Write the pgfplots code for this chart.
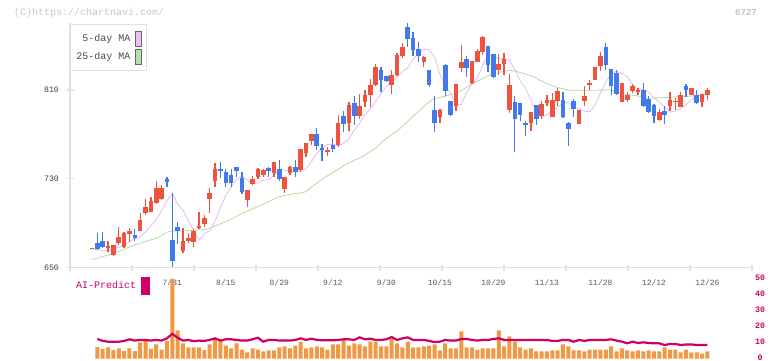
\documentclass[border=0pt]{standalone}
\usepackage{pgfplots}
\pgfplotsset{compat=1.18}
\usepackage{pgfplotstable}
\usepackage{fontspec}
\setmainfont{Liberation Mono}
\definecolor{cred}{RGB}{240,82,64}
\definecolor{cblue}{RGB}{66,122,238}
\definecolor{cpink}{RGB}{236,190,242}
\definecolor{cgreen}{RGB}{186,222,170}
\definecolor{corange}{RGB}{241,152,64}
\definecolor{cmag}{RGB}{204,0,102}
\definecolor{caxis}{RGB}{224,224,224}

\pgfplotstableread{
i o h l c
0 667 668 666.5 667.5
3 668 674 664.5 669.5
4 661.7 670.5 660.8 670.1
5 672.5 686.6 670.7 677.3
6 669 682 668 681
7 680.6 686 673.4 683
9 683.3 699.5 682.8 692.9
10 699 711.6 697.2 704.4
11 700.1 714 699.9 710
12 708.5 728 707 721.5
13 711.6 724.4 711 721.5
17 665.3 685.7 663.5 674
18 674 681 672.5 677
19 673.1 684.8 669 683
20 686.1 700.1 684.6 687.3
21 689.3 697.4 687 694.7
22 711.8 722 699.2 717.5
23 728 744.6 723 739
29 711.2 720 705 719.9
30 725.3 732.5 724.4 730
31 732 740 730.1 739
32 733.4 739.2 732 738.3
34 735 745.5 732 745.2
36 720.6 732 717.5 731.6
37 735.6 741.6 733.2 740.7
39 738 757 736.4 756.9
40 753.3 762.5 749.4 762.3
41 764.3 770.6 760.5 770.4
44 754.5 759 750.6 756.3
46 760.2 787.5 759 780.3
48 780 799.5 773.3 796.5
50 787 806 784 795.9
51 799.5 809.7 794.7 805.5
52 805.5 820 794.7 814.5
53 814.5 833.7 814 830.7
56 814.8 827.7 806.7 823.5
57 823.5 843.3 822.9 841.5
58 840.6 852.3 838.5 848.7
62 835 840.3 830.7 840
65 786 793 780.6 792
68 795.9 815.3 791.4 815.1
69 830.1 850.5 826 835.2
71 816 836.3 815.1 836.1
72 835.5 846.9 835.3 845.1
73 844.5 858.6 841.5 857.7
76 828 842.4 823.5 833.4
77 833.4 843.3 823.5 837.9
78 792.3 824.4 789.3 814.5
82 780.3 790.4 773.4 790.2
84 786.3 800.1 784.2 797.4
85 798.6 805.5 795.9 801
86 786 807.3 785.8 801
87 800.4 811.8 795.6 809.1
91 779.7 792.2 779.5 792
92 800.1 813.6 795.6 804.6
93 814.5 819 810 816.6
94 819 831 818.8 830.7
95 831.6 844.2 827.4 840.6
99 799.5 816.5 799.3 816.3
100 801 808.2 799.5 805.5
101 809.1 815.4 807.6 813.6
102 808.2 811.8 805.5 810
106 783 792.9 782.1 790.2
108 795.6 808.2 791.1 801
109 799.9 802.8 792 800.4
110 794.7 808.2 794.5 805.5
112 805.5 812 805.3 811.8
114 799.2 806.6 794.7 806.4
115 805.5 811.8 801 810
}\uptab

\pgfplotstableread{
i o h l c
1 672.5 681 666 666.5
2 674.3 682 668 668.9
8 679.4 684.6 674.3 676.7
14 729.9 732 722.4 727.4
15 675 717 650.5 656.3
16 686.6 691 671.3 683
24 739 745.2 731 737.3
25 736.2 739 722.4 726
26 733.2 738.6 723 726
27 740.7 741 732 737.4
28 731 736 716.6 718
33 739.8 741 732 737.3
35 738.9 747 727.8 730.1
38 740.7 746.7 732 736.4
42 770.4 775.8 756 759.8
43 757.8 761.4 746.4 756.3
45 760.5 766.8 754.5 756.9
47 786.6 791.1 772.5 779.7
49 798.3 805 778.5 787
54 828 830.7 808.5 819
55 822.9 823 817 818.4
59 866.7 870.3 848.7 856.2
60 857.1 862.5 841 845.7
61 847.2 853.5 835.5 841
63 828 828.3 813 814.5
64 792 805 772.5 780
66 832.5 833.7 804.6 809.4
67 800.1 800.3 787 787.8
70 837.9 840.6 821.7 830.1
74 849.6 849.8 826.5 832.8
75 842.4 842.6 820.5 821.7
79 799.2 804.6 754.5 784.2
80 798.3 798.5 782.4 787.8
81 780.3 782.1 768.9 778.8
83 796.5 796.7 778.8 784.2
88 801 808.2 785.8 786
89 780.3 781.2 759.8 775.2
90 800.1 801.9 786 793.2
96 848.7 852.3 828 832.8
97 828.9 829 805.8 813.9
98 825.3 827.7 805.8 806.7
103 810 816.3 795.4 795.6
104 801.9 804.6 789.3 790.2
105 796.5 797.4 780.3 786.6
107 791.1 795.6 779.4 787.8
111 813.6 815.4 803.7 810
113 805.5 810 797.4 798.3
}\downtab

\pgfplotstableread{
i p g
0 667 657.5
1 666 658.5
2 665.5 660
3 665.5 661.5
4 667 663
5 668.5 664.5
6 670.5 666.5
7 673.4 668.5
8 676.2 670.5
9 677.6 672
10 682.2 673.5
11 687.6 675
12 693.4 676.5
13 701.1 679
14 710.1 682
15 717 683
16 707.3 683
17 701.9 683.2
18 692.4 683.5
19 683.5 683.8
20 674.7 684
21 680.9 684.5
22 683.2 685.5
23 691.9 687.5
24 704.3 689.5
25 715.2 691.5
26 722.9 693.8
27 729.2 696.2
28 733.1 699
29 728.9 700.9
30 725.5 702.9
31 726.3 705
32 728.9 707.3
33 729 709.5
34 732.9 711.9
35 738 714
36 738 715.1
37 736.5 715.9
38 737 716.7
39 736.8 717.3
40 739.1 718.5
41 745.6 722.7
42 753.3 726.2
43 757.2 729.6
44 761.1 732.8
45 761 735.7
46 759.9 738.5
47 761.9 742
48 765.9 744.4
49 773.9 746.7
50 780.1 748.7
51 787.9 751.5
52 792.9 754.7
53 799.9 757.8
54 806.7 762.3
55 813.1 766.3
56 817.6 769.8
57 821.2 773.2
58 826.6 777.3
59 830.2 781.8
60 837.7 786.2
61 843.1 790.8
62 846.6 795.2
63 846.3 799.2
64 839.5 802.3
65 824.2 803.2
66 813.5 804.4
67 807.2 806
68 796.7 807.1
69 796.9 809.4
70 807.9 812.6
71 815.5 815.5
72 820.9 817.8
73 832.3 820.4
74 840.8 822.8
75 840.4 824.7
76 838.7 825.7
77 838.1 826.8
78 836.7 827.7
79 828.1 827.1
80 818.3 825.7
81 811.6 824.5
82 800.6 822.7
83 791.1 820.6
84 785 818.1
85 787.7 815.7
86 790.3 813.9
87 794.8 812.3
88 798.5 811.1
89 798.9 809.9
90 794.5 809.7
91 792.9 809.8
92 791.1 809.1
93 790.2 809.8
94 796.3 809.8
95 807.4 809.7
96 816.9 810.1
97 825.1 809.9
98 826.9 808.7
99 824.9 806.7
100 822.1 806
101 815 805.3
102 811.2 804.6
103 810.4 803.4
104 808.2 802.7
105 803 802.9
106 799.2 802.9
107 794.5 803.3
108 790.1 803.2
109 791.2 803.9
110 793.2 804
111 797 804.2
112 800.9 804.6
113 805.7 804.7
114 805.2 805.2
115 806.4 806.4
}\matab

\pgfplotstableread{
i v a
1 7.1 12.2
2 6.0 11
3 6.9 10.5
4 5.2 10.5
5 6.3 10.5
6 4.6 11
7 6.3 12
8 4.6 11.2
9 10 11.6
10 10.8 11.6
11 6.0 11.2
12 8.8 11.6
13 5.6 11.2
14 10.8 12.6
15 49.7 15.4
16 17.5 13
17 9.4 11.2
18 6.9 11.6
19 6.9 10.8
20 6.9 11.2
21 5.2 11
22 8.8 11.6
23 12.5 12.6
24 11.3 11.2
25 8.1 12
26 6.3 12
27 9.4 11.6
28 5.6 11.2
29 3.8 11.2
30 6.3 12
31 5.6 13
32 4.4 10.5
33 5 11.6
34 5 11.6
35 6.9 11.2
36 7.5 11.2
37 6.3 11.2
38 8.1 11.6
39 10.6 12.6
40 6.3 11.6
41 6.9 12.4
42 7.5 11.6
43 6.9 11.4
44 5.6 11.4
45 8.8 11.4
46 8.8 11.6
47 11.9 12
48 8.1 12
49 9.4 11.6
50 8.8 13.2
51 7.5 12
52 10.6 12.4
53 10.6 11.6
54 7.5 11.6
55 7.5 12
56 12.5 13.4
57 9.4 11.6
58 6.9 12.6
59 10.6 13.2
60 6.9 11.6
61 6.9 11.6
62 7.5 11.6
63 8.1 11
64 8.8 10.3
65 5 10.5
66 9.4 11.6
67 6.3 11.2
68 6.3 11.2
69 16.9 12.2
70 6.9 12.2
71 6.9 11.6
72 5.6 11.2
73 6.3 11.6
74 6.3 11.6
75 6.3 12.2
76 17.5 12.6
77 7.5 11.6
78 13.8 11.6
79 10.6 11.6
80 6.9 11.6
81 5.6 11.6
82 6.3 11.6
83 4.4 11.6
84 4.4 11.6
85 4.4 11.6
86 5 11
87 5 11
88 8.8 11.6
89 7.5 11.6
90 5 10.5
91 5 11.6
92 4.4 11
93 5.6 11.6
94 5.6 11.6
95 5.6 11.6
96 5.6 11.6
97 7.5 12
98 4.4 11.2
99 6.3 10.5
100 5 9.5
101 4.4 10.5
102 5 9.7
103 4.4 10.1
104 5 9.7
105 4.4 9.5
106 4.4 9.5
107 6.9 8.4
108 5.6 9.1
109 5.6 9.1
110 3.8 8.4
111 5.6 8.8
112 3.8 8.8
113 3.8 8.4
114 3.1 8.4
115 4.4 8.4
}\voltab

\begin{document}
\begin{tikzpicture}
\useasboundingbox (0bp,0bp) rectangle (772bp,361bp);
\node[anchor=west, text=black!22, font=\fontsize{10bp}{12bp}\selectfont, inner sep=0pt] at (14bp,348.5bp) {(C)https://chartnavi.com/};
\node[anchor=east, text=black!35, font=\fontsize{9bp}{11bp}\selectfont, inner sep=0pt] at (757bp,348.5bp) {6727};

\begin{axis}[
  at={(70bp,93.3bp)}, anchor=south west, scale only axis,
  width=682bp, height=244.9bp,
  xmin=-4.111, xmax=123.318, ymin=650, ymax=870.5,
  clip=false,
  axis x line=bottom, axis y line=left,
  axis line style={-, draw=caxis, line width=1.2bp},
  tick align=center, major tick length=7bp, minor tick length=6bp,
  xtick={15,25,35,45,55,65,75,85,95,105,115},
  xticklabels={7/31,8/15,8/29,9/12,9/30,10/15,10/29,11/13,11/28,12/12,12/26},
  major x tick style={draw=none},
  minor xtick={-4.111,7.474,19.058,30.643,42.227,53.812,65.396,76.981,88.565,100.149,111.734,123.318},
  minor x tick style={draw=caxis, line width=1.2bp},
  ytick style={draw=caxis, line width=1.2bp},
  xticklabel style={font=\fontsize{8bp}{10bp}\selectfont, text=black!65, yshift=-5bp},
  ytick={650,730,810},
  yticklabel style={font=\fontsize{8.3bp}{10bp}\selectfont, text=black!75, xshift=-4bp},
  /pgf/number format/assume math mode=true,
  legend plot pos=right,
  legend cell align=right,
  legend style={at={(0,1)}, anchor=north west, yshift=-1.3bp, draw=caxis, line width=1bp, fill=white,
    font=\fontsize{10bp}{12bp}\selectfont, text=black!70, inner xsep=4bp, inner ysep=6bp, row sep=2.5bp, column sep=3bp},
]
\addplot[cpink, line width=0.9bp, legend image code/.code={\draw[fill=cpink, draw=black!60, line width=0.7bp] (0bp,-7.5bp) rectangle (6bp,7.5bp);}] table[x=i,y=p]{\matab};
\addlegendentry{5-day MA}
\addplot[cgreen, line width=0.9bp, legend image code/.code={\draw[fill=cgreen, draw=black!60, line width=0.7bp] (0bp,-7.5bp) rectangle (6bp,7.5bp);}] table[x=i,y=g]{\matab};
\addlegendentry{25-day MA}
% wicks
\addplot[forget plot, draw=none, mark=none, error bars/.cd, y dir=both, y explicit, error mark=none,
  error bar style={draw=cred, line width=1.3bp}]
  table[x=i, y=c, y error plus expr=\thisrow{h}-\thisrow{c}, y error minus expr=\thisrow{c}-\thisrow{l}]{\uptab};
\addplot[forget plot, draw=none, mark=none, error bars/.cd, y dir=both, y explicit, error mark=none,
  error bar style={draw=cblue, line width=1.3bp}]
  table[x=i, y=c, y error plus expr=\thisrow{h}-\thisrow{c}, y error minus expr=\thisrow{c}-\thisrow{l}]{\downtab};
% bodies
\addplot[forget plot, draw=none, mark=none, error bars/.cd, y dir=minus, y explicit, error mark=none,
  error bar style={draw=cred, line width=4.6bp}]
  table[x=i, y=c, y error minus expr=\thisrow{c}-\thisrow{o}]{\uptab};
\addplot[forget plot, draw=none, mark=none, error bars/.cd, y dir=plus, y explicit, error mark=none,
  error bar style={draw=cblue, line width=4.6bp}]
  table[x=i, y=c, y error plus expr=\thisrow{o}-\thisrow{c}]{\downtab};
\end{axis}

\begin{axis}[
  at={(70bp,2.5bp)}, anchor=south west, scale only axis,
  width=682bp, height=80bp,
  xmin=-4.111, xmax=123.318, ymin=0, ymax=50,
  clip=false,
  axis x line=none, axis y line=right,
  axis line style={draw=none},
  xtick=\empty,
  ytick={0,10,20,30,40,50},
  ytick style={draw=none},
  yticklabel style={font=\bfseries\fontsize{8.3bp}{10bp}\selectfont, text=cmag, anchor=center, xshift=6bp, yshift=0.8bp},
  /pgf/number format/assume math mode=true,
  legend plot pos=right,
  legend style={at={(0,1)}, anchor=north west, draw=none, fill=none, xshift=2bp, yshift=2bp,
    font=\fontsize{10bp}{12bp}\selectfont, text=cmag, inner xsep=2bp, inner ysep=0bp, column sep=3bp},
]
\addplot[forget plot, ybar, bar width=4bp, fill=corange, draw=none] table[x=i,y=v]{\voltab};
\addplot[cmag, line width=2.2bp, legend image code/.code={\fill[cmag] (0bp,-8bp) rectangle (6.7bp,8bp);}] table[x=i,y=a]{\voltab};
\addlegendentry{AI-Predict}
\end{axis}
\end{tikzpicture}
\end{document}
